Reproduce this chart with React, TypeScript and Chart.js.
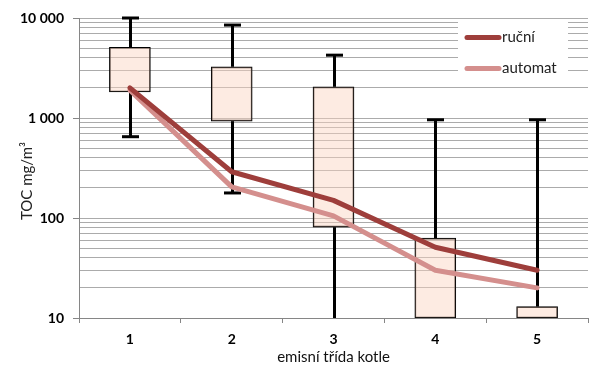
import { useEffect, useRef } from 'react';
import { Chart, registerables } from 'chart.js';

Chart.register(...registerables);

const categories = ['1', '2', '3', '4', '5'];
const whiskerMax = [10000, 8500, 4250, 960, 960];
const boxQ3 = [5100, 3250, 2050, 63, 13];
const boxQ1 = [1820, 930, 81, 10, 10];
const whiskerMin = [650, 178, 10, 10, 10];
const rucni = [2000, 290, 150, 51, 30];
const automat = [1900, 205, 105, 30, 20];
const seriesNames = ['ruční', 'automat'];
const yTickValues = [10, 100, 1000, 10000];
const yTickLabels = ['10', '100', '1 000', '10 000'];
const yTitle = 'TOC mg/m³';
const xTitle = 'emisní třída kotle';

const RUCNI_COLOR = '#9E3E3B';
const AUTOMAT_COLOR = '#D48F8D';
const FONT = 'Lato, "Open Sans", sans-serif';

const yGridValues: number[] = [];
for (let d = 10; d < 10000; d *= 10) {
  for (let k = 1; k <= 9; k++) yGridValues.push(d * k);
}
yGridValues.push(10000);

const whiskerPlugin = {
  id: 'whiskers',
  afterDatasetDraw(chart: any, args: any) {
    if (args.index !== 0) return;
    const { ctx } = chart;
    const x = chart.scales.x;
    const y = chart.scales.y;
    ctx.save();
    ctx.strokeStyle = '#000';
    ctx.lineWidth = 3;
    ctx.lineCap = 'butt';
    categories.forEach((_, i) => {
      const px = Math.round(x.getPixelForValue(i)) + 0.5;
      const pMax = y.getPixelForValue(whiskerMax[i]);
      const pQ3 = y.getPixelForValue(boxQ3[i]);
      const pQ1 = y.getPixelForValue(boxQ1[i]);
      const pMin = y.getPixelForValue(whiskerMin[i]);
      ctx.beginPath();
      ctx.moveTo(px, pMax);
      ctx.lineTo(px, pQ3);
      ctx.stroke();
      ctx.beginPath();
      ctx.moveTo(px, pQ1);
      ctx.lineTo(px, pMin);
      ctx.stroke();
      ctx.beginPath();
      ctx.moveTo(px - 8.5, pMax);
      ctx.lineTo(px + 8.5, pMax);
      ctx.stroke();
      if (whiskerMin[i] > y.min) {
        ctx.beginPath();
        ctx.moveTo(px - 8.5, pMin);
        ctx.lineTo(px + 8.5, pMin);
        ctx.stroke();
      }
    });
    ctx.restore();
  },
};

const legendPlugin = {
  id: 'customLegend',
  afterDatasetsDraw(chart: any) {
    const { ctx } = chart;
    ctx.save();
    ctx.fillStyle = '#fff';
    ctx.fillRect(458, 20, 110, 59);
    const items = [
      { label: seriesNames[0], color: RUCNI_COLOR, y: 37.5 },
      { label: seriesNames[1], color: AUTOMAT_COLOR, y: 68.5 },
    ];
    items.forEach((it) => {
      ctx.strokeStyle = it.color;
      ctx.lineWidth = 5;
      ctx.lineCap = 'round';
      ctx.beginPath();
      ctx.moveTo(467, it.y);
      ctx.lineTo(499, it.y);
      ctx.stroke();
      ctx.fillStyle = '#222';
      ctx.font = `15px ${FONT}`;
      ctx.textBaseline = 'middle';
      ctx.textAlign = 'left';
      ctx.fillText(it.label, 502, it.y);
    });
    // y axis title
    ctx.translate(27, 181);
    ctx.rotate(-Math.PI / 2);
    ctx.fillStyle = '#222';
    ctx.font = `15px ${FONT}`;
    ctx.textAlign = 'center';
    ctx.textBaseline = 'middle';
    ctx.fillText(yTitle, 0, 0);
    ctx.restore();
  },
};

export default function App() {
  const canvasRef = useRef<HTMLCanvasElement | null>(null);

  useEffect(() => {
    document.body.style.margin = '0';
    const canvas = canvasRef.current;
    if (!canvas) return;
    const chart = new Chart(canvas, {
      type: 'bar',
      data: {
        labels: categories,
        datasets: [
          {
            type: 'bar',
            label: 'box',
            data: categories.map((_, i) => [boxQ1[i], boxQ3[i]]) as any,
            backgroundColor: 'rgba(250, 210, 190, 0.45)',
            borderColor: '#000',
            borderWidth: 1,
            borderSkipped: false,
            barThickness: 41,
            order: 3,
          } as any,
          {
            type: 'line',
            label: seriesNames[1],
            data: automat,
            borderColor: AUTOMAT_COLOR,
            borderWidth: 5,
            pointRadius: 0,
            tension: 0,
            borderCapStyle: 'round',
            borderJoinStyle: 'round',
            order: 2,
          } as any,
          {
            type: 'line',
            label: seriesNames[0],
            data: rucni,
            borderColor: RUCNI_COLOR,
            borderWidth: 5,
            pointRadius: 0,
            tension: 0,
            borderCapStyle: 'round',
            borderJoinStyle: 'round',
            order: 1,
          } as any,
        ],
      },
      options: {
        responsive: false,
        animation: false,
        layout: { padding: { top: 18, right: 18, left: 0, bottom: 0 } },
        plugins: {
          legend: { display: false },
          tooltip: { enabled: false },
        },
        scales: {
          x: {
            type: 'category',
            offset: true,
            grid: {
              drawOnChartArea: false,
              offset: true,
              tickLength: 5,
              color: '#868686',
            },
            border: { color: '#868686' },
            ticks: {
              color: '#000',
              font: { family: FONT, size: 14, weight: 'bold' },
              padding: 8,
            },
            title: {
              display: true,
              text: xTitle,
              color: '#111',
              font: { family: FONT, size: 15 },
              padding: { top: 0, bottom: 3 },
            },
            afterFit(s: any) {
              s.height = 51;
            },
          },
          y: {
            type: 'logarithmic',
            min: 10,
            max: 10000,
            afterBuildTicks(s: any) {
              s.ticks = yGridValues.map((v) => ({ value: v }));
            },
            grid: {
              color: '#ABABAB',
              tickLength: 6,
              tickColor: (c: any) =>
                c.tick && yTickValues.includes(c.tick.value) ? '#868686' : 'rgba(0,0,0,0)',
            },
            border: { color: '#868686' },
            ticks: {
              autoSkip: false,
              color: '#000',
              padding: 9,
              font: { family: FONT, size: 14, weight: 'bold' },
              callback: (v: any) => {
                const idx = yTickValues.indexOf(Number(v));
                return idx >= 0 ? yTickLabels[idx] : '';
              },
            },
            title: { display: false },
            afterFit(s: any) {
              s.width = 79;
            },
          },
        },
      } as any,
      plugins: [whiskerPlugin, legendPlugin],
    });
    return () => chart.destroy();
  }, []);

  return (
    <div style={{ position: 'absolute', left: 0, top: 0, width: 606, height: 369 }}>
      <canvas ref={canvasRef} width={606} height={369} />
    </div>
  );
}
